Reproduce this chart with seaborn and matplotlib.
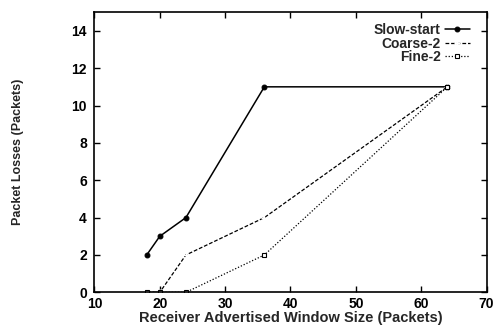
import matplotlib
matplotlib.use("Agg")
import matplotlib.pyplot as plt
import seaborn as sns
import pandas as pd

window = [18, 20, 24, 36, 64]
slow_start = [2, 3, 4, 11, 11]
coarse_2 = [0, 0, 2, 4, 11]
fine_2 = [0, 0, 0, 2, 11]
x_ticks = [10, 20, 30, 40, 50, 60, 70]
y_ticks = [0, 2, 4, 6, 8, 10, 12, 14]

sns.set_theme(style="ticks")
plt.rcParams['font.family'] = ['Liberation Sans', 'DejaVu Sans']
plt.rcParams['font.weight'] = 'bold'

fig = plt.figure(figsize=(4.95, 3.27), dpi=100)
ax = fig.add_axes([0.1907, 0.106, 0.7923, 0.857])

df = pd.DataFrame({"x": window, "s": slow_start, "c": coarse_2, "f": fine_2})
sns.lineplot(data=df, x="x", y="s", ax=ax, color="black", lw=1.1, marker="o",
             markersize=3.5, markeredgecolor="black", label="Slow-start")
sns.lineplot(data=df, x="x", y="c", ax=ax, color="black", lw=0.9, marker="+",
             markersize=4.5, markeredgewidth=0.9, dashes=(3, 1.5), label="Coarse-2")
sns.lineplot(data=df, x="x", y="f", ax=ax, color="black", lw=0.9, marker="s",
             markersize=3.5, markerfacecolor="white", markeredgecolor="black",
             markeredgewidth=0.8, dashes=(1, 1.5), label="Fine-2")

ax.set_xlim(10, 70)
ax.set_ylim(0, 15)
ax.set_xticks(x_ticks)
ax.set_yticks(y_ticks)
ax.tick_params(direction="in", length=4, width=1, top=True, right=True,
               labelsize=10, colors="black")
ax.tick_params(axis="x", pad=3.5)
ax.tick_params(axis="y", pad=5.5)
for s in ax.spines.values():
    s.set_linewidth(1.2)
    s.set_color("black")
ax.set_xlabel("Receiver Advertised Window Size (Packets)", fontsize=10.5,
              fontweight="bold", labelpad=0)
ax.set_ylabel("Packet Losses (Packets)", fontsize=9, fontweight="bold")
ax.yaxis.set_label_coords(-0.18, 0.5)

leg = ax.legend(loc="upper right", frameon=False, markerfirst=False,
                prop={"size": 10, "weight": "bold"},
                handlelength=1.8, handletextpad=0.3, labelspacing=-0.05,
                borderaxespad=0.4, bbox_to_anchor=(0.985, 1.0))

fig.savefig("out.png", dpi=100)
